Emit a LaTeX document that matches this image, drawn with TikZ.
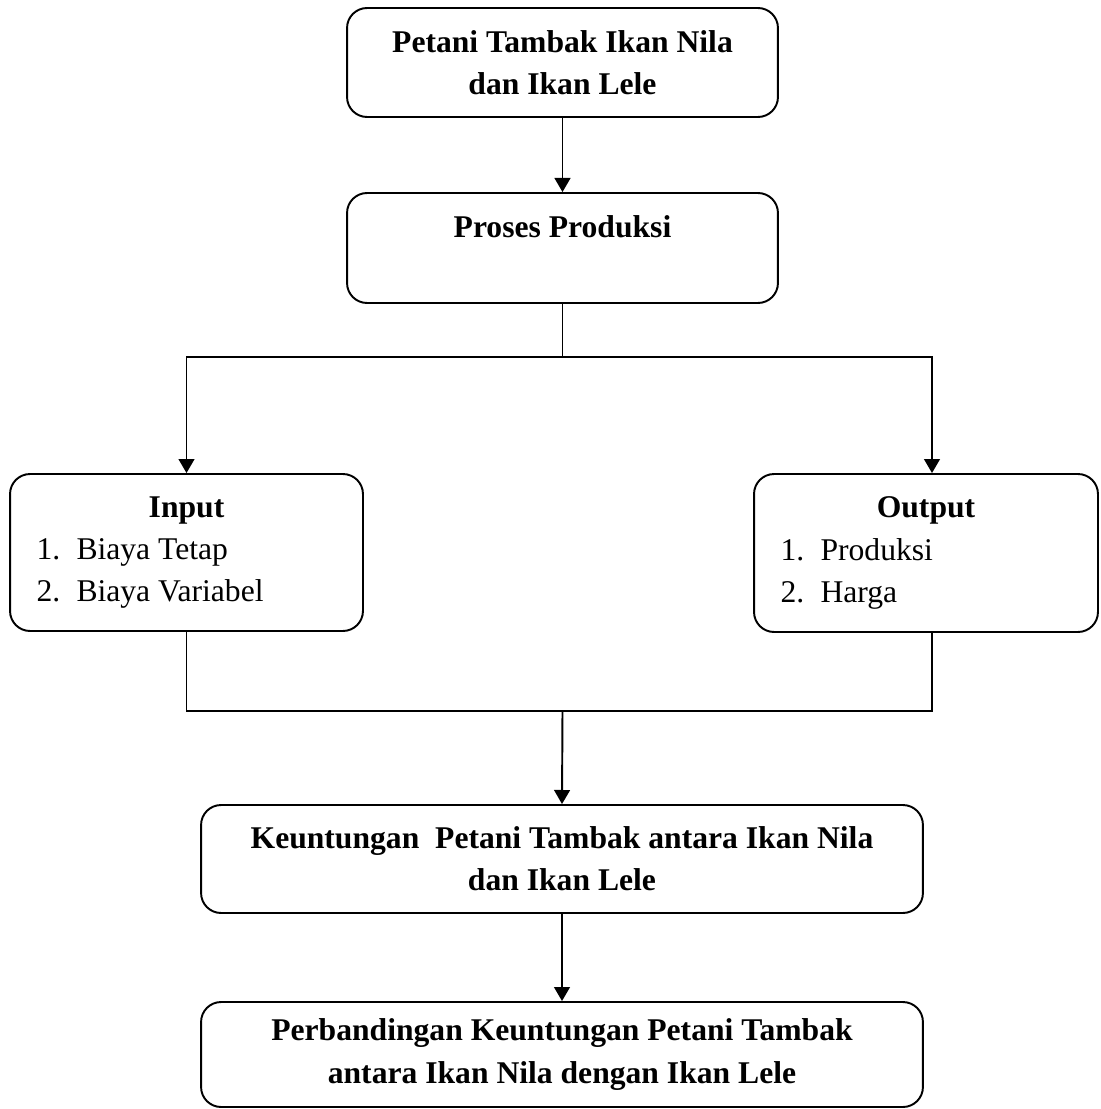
\documentclass[tikz,border=0pt]{standalone}
\usepackage{fontspec}
\setmainfont{Liberation Serif}
\usetikzlibrary{arrows.meta}
\begin{document}
\begin{tikzpicture}
    [x=0.02cm,y=-0.02cm,line width=1.1pt,
     >={Triangle[width=9pt,length=8pt]},
     box/.style={draw,rounded corners=0.4cm,align=center,inner sep=0pt,
       font=\fontsize{18}{24}\selectfont\bfseries},
     listbox/.style={draw,rounded corners=0.4cm,align=flush left,inner ysep=0pt,
       inner xsep=0.53cm,font=\fontsize{18}{24}\selectfont}]
    \useasboundingbox (0,0) rectangle (1100,1109);
    \node (petani) at (562.5,62.5) [box,minimum width=8.62cm,minimum height=2.18cm]
      {Petani Tambak Ikan Nila\\dan Ikan Lele};
    \node (proses) at (562.5,248) [box,minimum width=8.62cm,minimum height=2.2cm]
      {Proses Produksi\\\phantom{P}};
    \node (input) at (186.5,552.5) [listbox,text width=6cm,minimum height=3.14cm]
      {\makebox[\hsize]{\textbf{Input}}\\
       \makebox[0.8cm][l]{1.}Biaya Tetap\\
       \makebox[0.8cm][l]{2.}Biaya Variabel};
    \node (output) at (926,553) [listbox,text width=5.82cm,minimum height=3.16cm]
      {\makebox[\hsize]{\textbf{Output}}\\
       \makebox[0.8cm][l]{1.}Produksi\\
       \makebox[0.8cm][l]{2.}Harga};
    \node (untung) at (562,859) [box,minimum width=14.44cm,minimum height=2.16cm]
      {Keuntungan\ \ Petani Tambak antara Ikan Nila\\dan Ikan Lele};
    \node (banding) at (562,1054.5) [box,minimum width=14.44cm,minimum height=2.1cm]
      {Perbandingan Keuntungan Petani Tambak\\antara Ikan Nila dengan Ikan Lele};
    \coordinate (split) at (562.5,357);
    \coordinate (outtop) at (932,357);
    \coordinate (join) at (562.5,711);
    \draw [->] (petani) to (proses);
    \draw (proses.south) -- (split);
    \draw [->] (split) -| (input.north);
    \draw [->] (split) -- (outtop) -- (outtop |- output.north);
    \draw (input.south) |- (join);
    \draw (outtop |- output.south) |- (join);
    \draw [->] (join) -- (untung.north);
    \draw [->] (untung) to (banding);
  \end{tikzpicture}
\end{document}
